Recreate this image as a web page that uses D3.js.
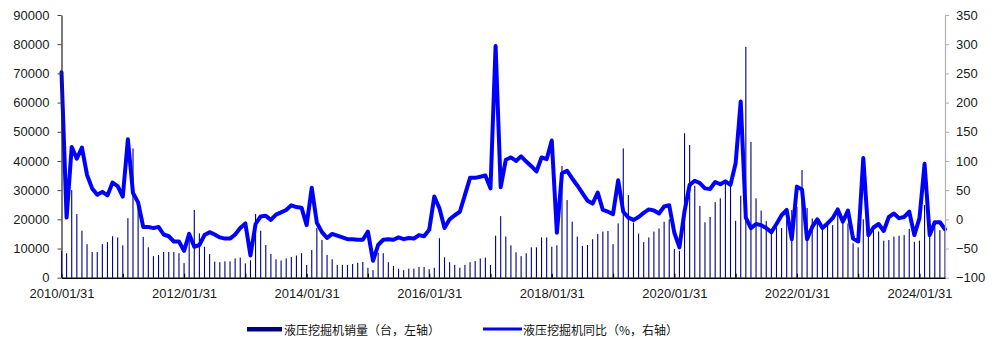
<!DOCTYPE html>
<html>
<head>
<meta charset="utf-8">
<script src="https://cdn.jsdelivr.net/npm/d3@7/dist/d3.min.js"></script>
<style>
  html, body { margin: 0; padding: 0; background: #fff; }
  svg { display: block; }
  .tick text { font-family: "Liberation Sans", Arial, sans-serif; font-size: 13px; fill: #1a1a1a; }
  .legend text { font-family: "Noto Sans CJK SC", sans-serif; font-size: 12px; fill: #111; }
</style>
</head>
<body>
<svg id="chart" width="999" height="340"></svg>
<script>
// Monthly hydraulic excavator sales (units, left axis) and YoY change (%, right axis)
const monthCount = 174; // 2010/01 .. 2024/06
const months = d3.range(monthCount).map(i =>
  d3.utcFormat("%Y/%m/%d")(new Date(Date.UTC(2010, i + 1, 0))));

const sales = [
  // 2010
  9200, 8400, 30000, 21800, 16100, 11500, 8800, 8800, 11500, 12200, 14200, 13800,
  // 2011
  11100, 20400, 44300, 26600, 14000, 10400, 7400, 7800, 8800, 8800, 8800, 8400,
  // 2012
  5000, 15500, 23200, 15200, 10600, 8100, 5500, 5300, 5600, 5600, 6600, 6900,
  // 2013
  4900, 6000, 21800, 16100, 11200, 8100, 6300, 5900, 6600, 7100, 7600, 8400,
  // 2014
  4400, 9500, 17000, 12900, 7800, 6300, 4400, 4400, 4400, 4700, 5100, 5400,
  // 2015
  3400, 2600, 8600, 8400, 5300, 4000, 3100, 2600, 3100, 3100, 3700, 3700,
  // 2016
  2900, 3400, 13500, 7000, 5300, 4400, 3400, 4400, 5300, 5700, 6600, 6900,
  // 2017
  4400, 14400, 21100, 14100, 11100, 8700, 7400, 8400, 10400, 10400, 13800, 13800,
  // 2018
  10600, 11100, 38300, 26600, 19200, 14100, 10900, 11200, 13200, 15000, 15800, 16000,
  // 2019
  11500, 18600, 44300, 28300, 18900, 15100, 12200, 13800, 15800, 16900, 19200, 20000,
  // 2020
  9800, 9200, 49500, 45500, 31500, 24600, 19000, 20800, 25900, 27200, 32300, 32300,
  // 2021
  19500, 28100, 79100, 46500, 27200, 23000, 19400, 16000, 17500, 17000, 20000, 23200,
  // 2022
  24300, 36900, 23900, 20300, 20000, 17500, 19000, 18000, 23000, 20600, 18600, 11800,
  // 2023
  10400, 20000, 16300, 17500, 15800, 12700, 12900, 14100, 14400, 14600, 16700, 12300,
  // 2024
  12700, 24900, 15800, 17500, 16300, 16000
];

const yoy = [
  // 2010
  252, 3, 124, 104, 123, 76, 53, 42, 47, 41, 63, 57,
  // 2011
  39, 137, 45, 29, -13, -13, -15, -13, -26, -29, -38, -38,
  // 2012
  -54, -25, -47, -44, -27, -22, -26, -31, -33, -33, -26, -15,
  // 2013
  -7, -62, -8, 5, 6, -1, 8, 12, 16, 24, 21, 20,
  // 2014
  -10, 54, -6, -22, -32, -25, -28, -31, -34, -34, -35, -35,
  // 2015
  -21, -71, -44, -35, -34, -35, -31, -34, -32, -33, -27, -29,
  // 2016
  -18, 39, 19, -15, 0, 7, 13, 42, 71, 71, 73, 75,
  // 2017
  53, 297, 55, 102, 106, 100, 108, 99, 91, 82, 106, 103,
  // 2018
  135, -23, 79, 83, 70, 58, 45, 32, 27, 46, 16, 13,
  // 2019
  9, 67, 13, 3, -1, 4, 11, 17, 15, 10, 22, 24,
  // 2020
  -23, -48, 14, 59, 66, 62, 53, 52, 64, 60, 65, 59,
  // 2021
  96, 202, 3, -15, -8, -10, -15, -22, -8, 7, 16, -34,
  // 2022
  56, 51, -34, -13, 0, -15, -7, 2, 17, -4, 15, -33,
  // 2023
  -38, 105, -27, -14, -8, -20, 4, 10, 2, 4, 13, -27,
  // 2024
  2, 95, -27, -5, -5, -17
];

const leftTicks = [0, 10000, 20000, 30000, 40000, 50000, 60000, 70000, 80000, 90000];
const rightTicks = [-100, -50, 0, 50, 100, 150, 200, 250, 300, 350];
const yearTicks = months.filter((m, i) => i % 12 === 0);
const xTickLabels = months.filter((m, i) => i % 24 === 0);

const seriesNames = ["液压挖掘机销量（台，左轴）", "液压挖掘机同比（%，右轴）"];

const svg = d3.select("#chart");
const plot = { left: 61.5, right: 945, top: 15, bottom: 277.7 };

const x = d3.scalePoint().domain(months).range([plot.left, plot.right]);
const yL = d3.scaleLinear().domain([0, 90000]).range([plot.bottom, plot.top]);
const yR = d3.scaleLinear().domain([-100, 350]).range([plot.bottom, plot.top]);

// bars: monthly sales
svg.append("g")
  .selectAll("rect")
  .data(sales)
  .join("rect")
  .attr("x", (d, i) => x(months[i]) - 0.55)
  .attr("width", 1.1)
  .attr("y", d => yL(d))
  .attr("height", d => yL(0) - yL(d))
  .attr("fill", "#000080");

// line: YoY change
const line = d3.line()
  .x((d, i) => x(months[i]))
  .y(d => yR(d));

svg.append("path")
  .datum(yoy)
  .attr("d", line)
  .attr("fill", "none")
  .attr("stroke", "#0000ff")
  .attr("stroke-width", 4)
  .attr("stroke-linejoin", "round")
  .attr("stroke-linecap", "round");

// left axis
const gL = svg.append("g")
  .attr("transform", `translate(${plot.left},0)`)
  .call(d3.axisLeft(yL).tickValues(leftTicks).tickSize(4).tickSizeOuter(0).tickPadding(8)
    .tickFormat(d3.format("d")));
gL.select(".domain").attr("stroke", "#222").attr("stroke-width", 1.2);
gL.selectAll(".tick line").attr("stroke", "#444");

// right axis
const gR = svg.append("g")
  .attr("transform", `translate(${plot.right},0)`)
  .call(d3.axisRight(yR).tickValues(rightTicks).tickSize(4).tickSizeOuter(0).tickPadding(7));
gR.select(".domain").attr("stroke", "#b0b0b0").attr("stroke-width", 1.2);
gR.selectAll(".tick line").attr("stroke", "#b0b0b0");

// bottom axis: yearly ticks pointing up, labels every two years
const gX = svg.append("g")
  .attr("transform", `translate(0,${plot.bottom})`)
  .call(d3.axisBottom(x).tickValues(yearTicks).tickSizeInner(-4).tickSizeOuter(0).tickPadding(11)
    .tickFormat(d => xTickLabels.includes(d) ? d : ""));
gX.select(".domain").attr("stroke", "#000").attr("stroke-width", 1.5);
gX.selectAll(".tick line").attr("stroke", "#000").attr("stroke-width", 1.2);

// legend
const legend = svg.append("g").attr("class", "legend");
legend.append("rect")
  .attr("x", 247).attr("y", 327).attr("width", 35).attr("height", 4.5)
  .attr("fill", "#000080");
legend.append("text")
  .attr("x", 284).attr("y", 329).attr("dominant-baseline", "central")
  .text(seriesNames[0]);
legend.append("line")
  .attr("x1", 483).attr("x2", 522).attr("y1", 329).attr("y2", 329)
  .attr("stroke", "#0000ff").attr("stroke-width", 3);
legend.append("text")
  .attr("x", 523).attr("y", 329).attr("dominant-baseline", "central")
  .text(seriesNames[1]);
</script>
</body>
</html>
